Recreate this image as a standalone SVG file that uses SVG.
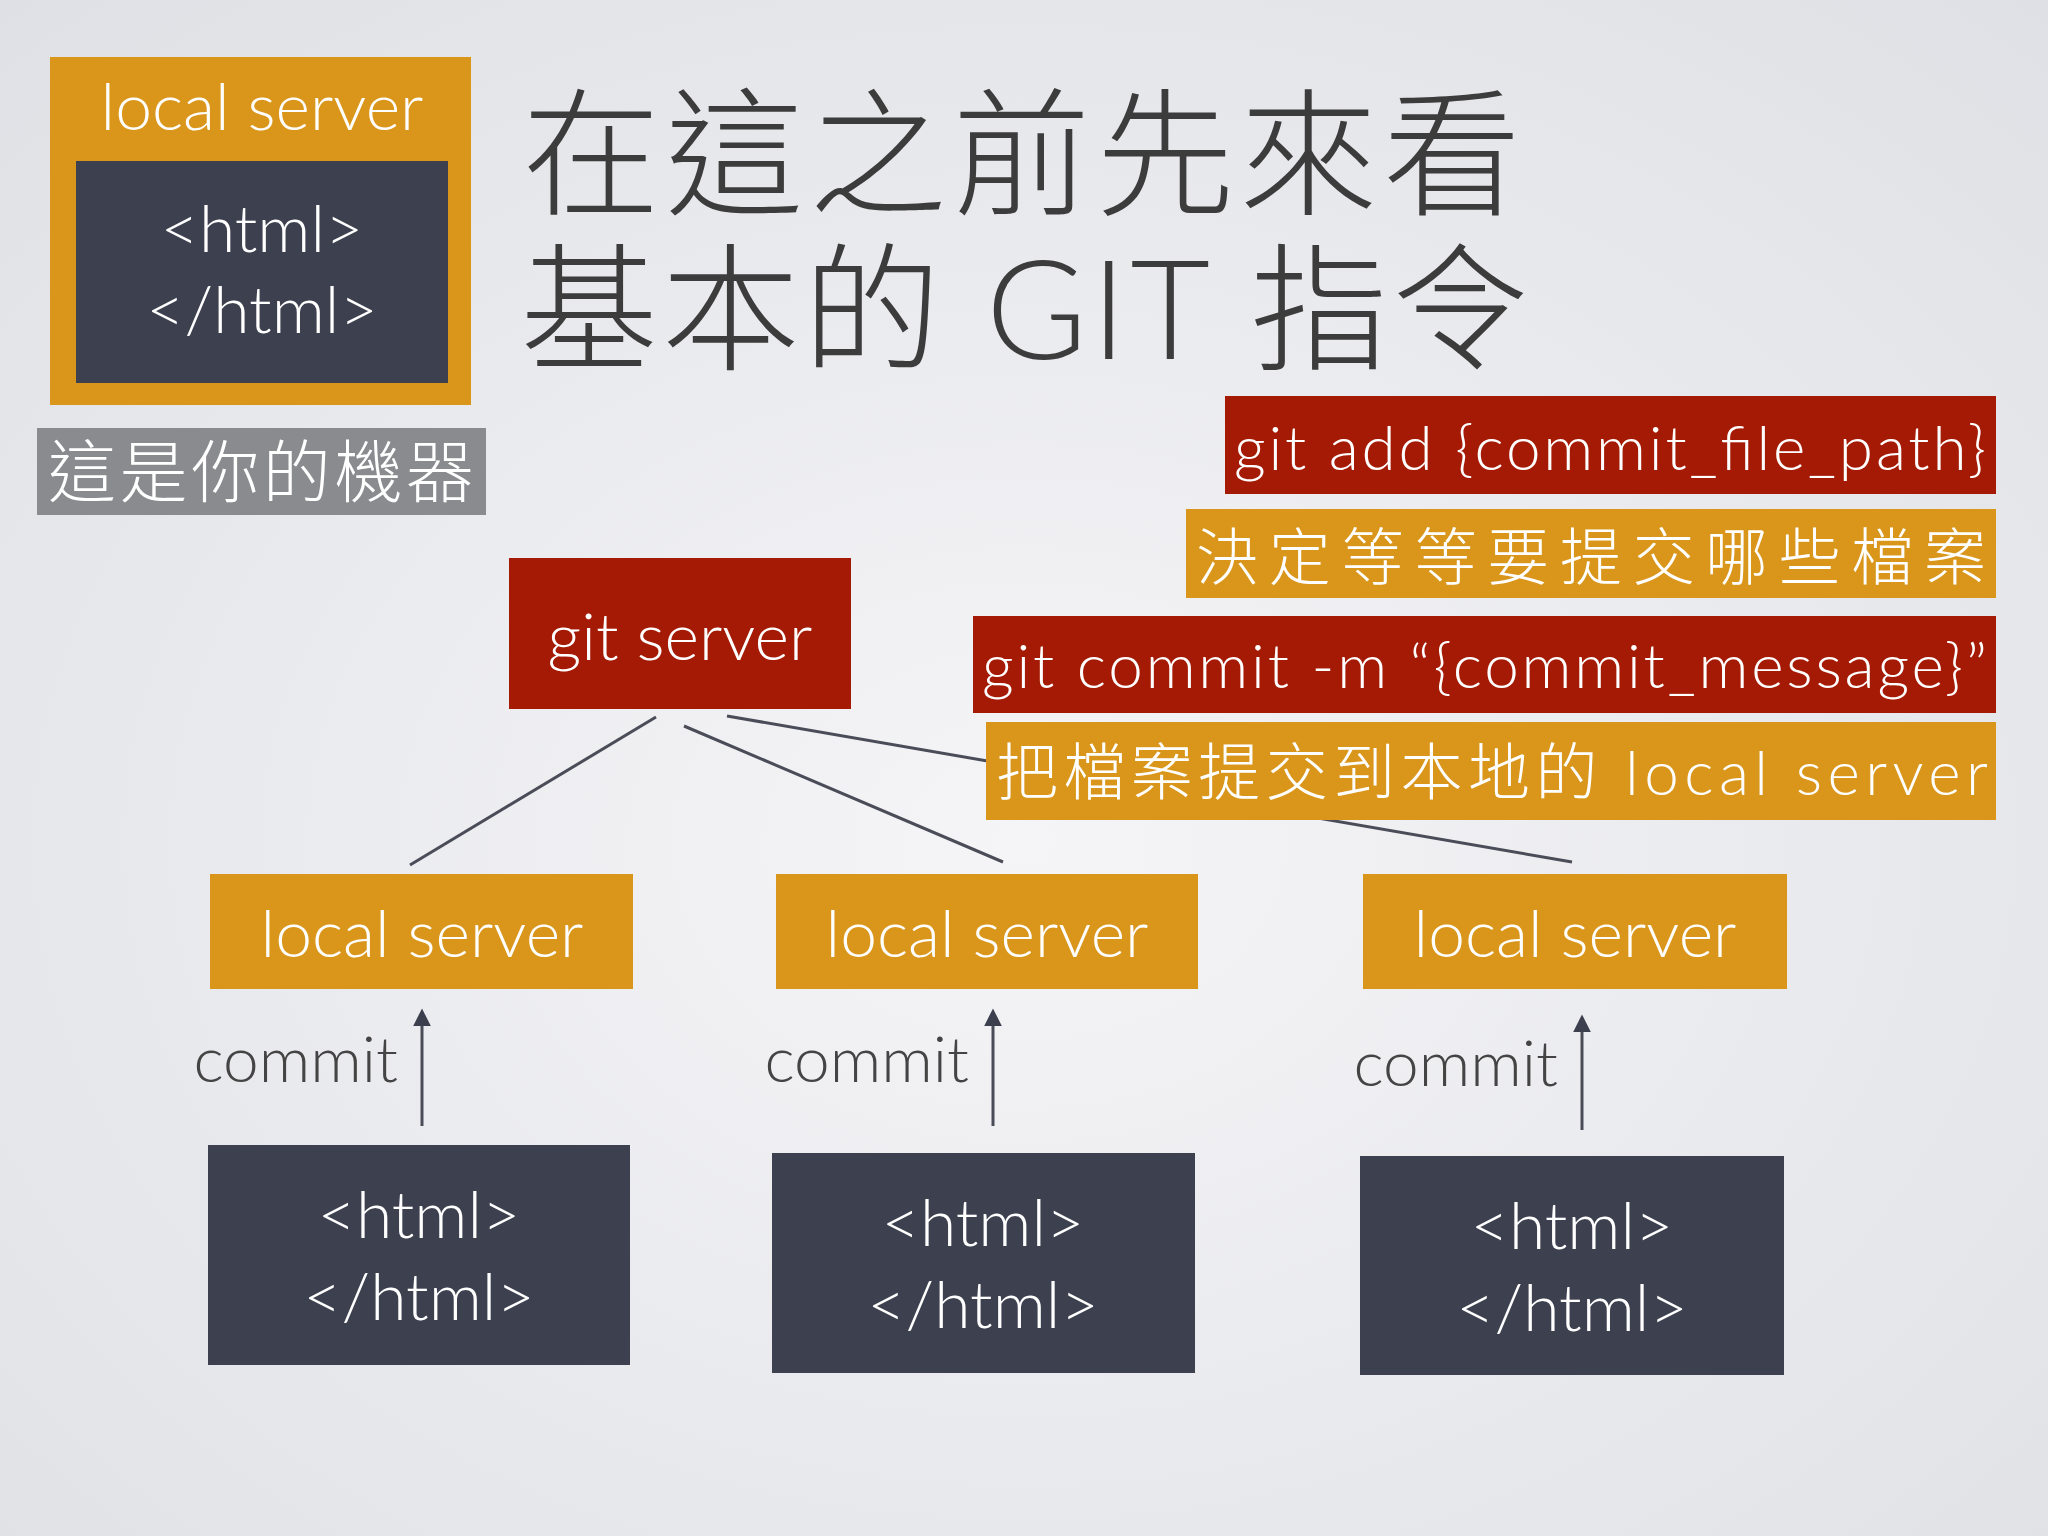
<svg xmlns="http://www.w3.org/2000/svg" width="2048" height="1536" viewBox="0 0 2048 1536">
<defs>
<radialGradient id="bg" cx="50%" cy="55%" r="75%"><stop offset="0" stop-color="#f5f5f7"/><stop offset="1" stop-color="#dfe0e5"/></radialGradient>
<marker id="ah" viewBox="0 0 10 10" refX="8" refY="5" markerWidth="6" markerHeight="6" orient="auto"><path d="M0,0L10,5L0,10z" fill="#3c3f4e"/></marker>
</defs>
<style>
text{font-family:Lato,"Noto Sans CJK TC",sans-serif;font-weight:300}
.or{fill:#d9961b}.rd{fill:#a51a05}.dk{fill:#3d404f}
.w{fill:#fff;font-size:66px;text-anchor:middle}
.wl{fill:#fff;font-size:62px}
.cm{fill:#444;font-size:64px;text-anchor:end}
.ln{stroke:#4a4c58;stroke-width:3;fill:none}
</style>
<rect width="2048" height="1536" fill="url(#bg)"/>
<g id="connectors">
<line class="ln" x1="656" y1="717" x2="410" y2="865"/>
<line class="ln" x1="684" y1="726" x2="1003" y2="862"/>
<line class="ln" x1="727" y1="716" x2="1572" y2="862"/>
<line class="ln" x1="422" y1="1126" x2="422" y2="1012" marker-end="url(#ah)"/>
<line class="ln" x1="993" y1="1126" x2="993" y2="1012" marker-end="url(#ah)"/>
<line class="ln" x1="1582" y1="1130" x2="1582" y2="1018" marker-end="url(#ah)"/>
</g>
<g id="mymachine">
<rect class="or" x="50" y="57" width="421" height="348"/>
<rect class="dk" x="76" y="161" width="372" height="222"/>
<text class="w" x="262" y="130" font-size="62">local server</text>
<text class="w" x="262" y="252">&lt;html&gt;</text>
<text class="w" x="262" y="333">&lt;/html&gt;</text>
</g>
<g id="label-machine">
<rect fill="#8a8b8f" x="37" y="428" width="449" height="87"/>
<text x="48" y="497" fill="#fff" font-size="68" textLength="426">這是你的機器</text>
</g>
<g id="title">
<text x="522" y="204" fill="#3c3c3c" font-size="138" textLength="999">在這之前先來看</text>
<text x="520" y="359" fill="#3c3c3c" font-size="138" textLength="1010">基本的 GIT 指令</text>
</g>
<g id="gitserver">
<rect class="rd" x="509" y="558" width="342" height="151"/>
<text class="w" x="680" y="660" font-size="68">git server</text>
</g>
<g id="cmd-add"><rect class="rd" x="1225" y="396" width="771" height="98"/><text class="wl" x="1234" y="470" textLength="752">git add {commit_file_path}</text></g>
<g id="desc-add"><rect class="or" x="1186" y="509" width="810" height="89"/><text class="wl" x="1196" y="580" font-size="66" textLength="790">決定等等要提交哪些檔案</text></g>
<g id="cmd-commit"><rect class="rd" x="973" y="616" width="1023" height="97"/><text class="wl" x="982" y="688" textLength="1005">git commit -m “{commit_message}”</text></g>
<g id="desc-commit"><rect class="or" x="986" y="722" width="1010" height="98"/><text class="wl" x="996" y="795" font-size="66" textLength="992">把檔案提交到本地的 local server</text></g>
<g id="local1"><rect class="or" x="210" y="874" width="423" height="115"/><text class="w" x="422" y="957">local server</text></g>
<g id="local2"><rect class="or" x="776" y="874" width="422" height="115"/><text class="w" x="987" y="957">local server</text></g>
<g id="local3"><rect class="or" x="1363" y="874" width="424" height="115"/><text class="w" x="1575" y="957">local server</text></g>
<g id="commit-labels">
<text class="cm" x="398" y="1082">commit</text>
<text class="cm" x="969" y="1082">commit</text>
<text class="cm" x="1558" y="1086">commit</text>
</g>
<g id="html1"><rect class="dk" x="208" y="1145" width="422" height="220"/><text class="w" x="419" y="1238">&lt;html&gt;</text><text class="w" x="419" y="1320">&lt;/html&gt;</text></g>
<g id="html2"><rect class="dk" x="772" y="1153" width="423" height="220"/><text class="w" x="983" y="1246">&lt;html&gt;</text><text class="w" x="983" y="1328">&lt;/html&gt;</text></g>
<g id="html3"><rect class="dk" x="1360" y="1156" width="424" height="219"/><text class="w" x="1572" y="1249">&lt;html&gt;</text><text class="w" x="1572" y="1331">&lt;/html&gt;</text></g>
</svg>
